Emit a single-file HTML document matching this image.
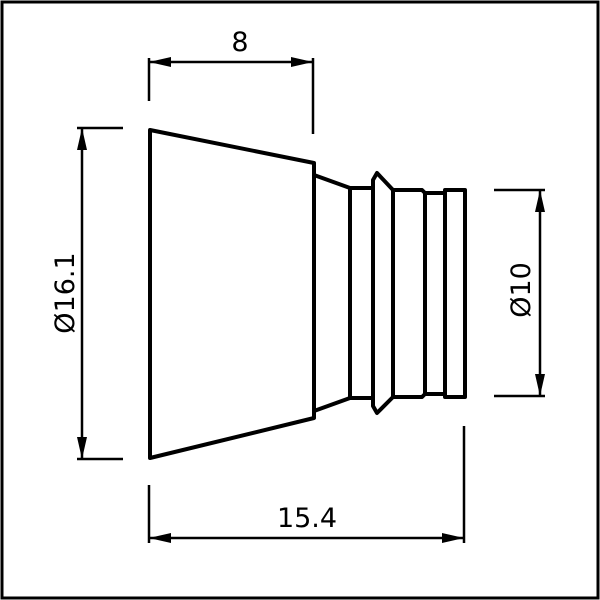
<!DOCTYPE html>
<html><head><style>html,body{margin:0;padding:0;background:#fff}</style></head><body>
<svg width="600" height="600" xmlns="http://www.w3.org/2000/svg" style="display:block">
<rect x="2" y="2" width="596" height="596" fill="#fff" stroke="#000" stroke-width="3"/>
<defs>
<marker id="a" viewBox="0 0 22 10" refX="22" refY="5" markerWidth="22" markerHeight="10" markerUnits="userSpaceOnUse" orient="auto-start-reverse"><path d="M0,0 L22,5 L0,10 z" fill="#000"/></marker>
</defs>
<g fill="none" stroke="#000" stroke-width="4" stroke-linejoin="round" stroke-linecap="round">
<path d="M150,130 L150,458 L314,418 L314,163 Z"/>
<path d="M314,175 L350,188 L350,398 L314,411"/>
<path d="M350,188 L373,188 M350,398 L373,398"/>
<path d="M373,188 L373,398 M373,180 L377,173 L393,190 L393,397 L377,413 L373,406 Z"/>
<path d="M393,190 L422,190 L425,193 L445,193 L445,190 L465,190 L465,397 L445,397 L445,394 L425,394 L422,397 L393,397"/>
<path d="M425,193 L425,394 M445,193 L445,394"/>
</g>
<g stroke="#000" stroke-width="2.5" fill="none">
<path d="M149,58 V101 M313,58 V134"/>
<line x1="149" y1="62" x2="313" y2="62" marker-start="url(#a)" marker-end="url(#a)"/>
<path d="M77,128 H123 M77,459 H123"/>
<line x1="82" y1="128" x2="82" y2="459" marker-start="url(#a)" marker-end="url(#a)"/>
<path d="M494,190 H545 M494,396 H545"/>
<line x1="540" y1="190" x2="540" y2="396" marker-start="url(#a)" marker-end="url(#a)"/>
<path d="M149,485 V543 M464,426 V543"/>
<line x1="149" y1="538" x2="464" y2="538" marker-start="url(#a)" marker-end="url(#a)"/>
</g>
<g font-family="DejaVu Sans, Liberation Sans, sans-serif" font-size="27" text-anchor="middle" fill="#000">
<text x="240" y="51">8</text>
<text x="307" y="527">15.4</text>
<text transform="translate(74,293) rotate(-90)">Ø16.1</text>
<text transform="translate(530,290) rotate(-90)">Ø10</text>
</g>
</svg>
</body></html>
